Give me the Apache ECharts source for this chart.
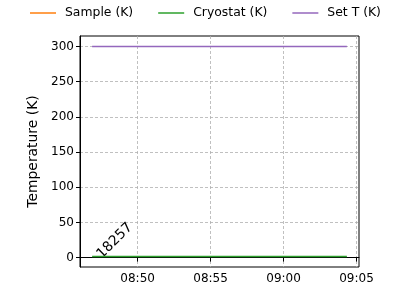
<!DOCTYPE html>
<html><head><meta charset="utf-8">
<script src="https://cdn.jsdelivr.net/npm/echarts@6/dist/echarts.min.js"></script>
<style>html,body{margin:0;padding:0;background:#fff}#c{width:400px;height:300px}</style>
</head><body><div id="c"></div>
<script>
// time in minutes since midnight
const times = [526.88, 544.34];
const sampleK = [null, null];
const cryostatK = [1.5, 1.5];
const setTK = [300, 300];
const xTickValues = [530, 535, 540, 545];
const yTickValues = [0, 50, 100, 150, 200, 250, 300];
const annotation = '18257';
const F = 'DejaVu Sans';

function fmt(v){const h=Math.floor(v/60), m=Math.round(v-h*60);return String(h).padStart(2,'0')+':'+String(m).padStart(2,'0');}
const pairs = arr => times.map((t,i)=>[t,arr[i]]);

const chart = echarts.init(document.getElementById('c'), null, {renderer:'canvas'});
const gridLine = {show:true, lineStyle:{color:'#b0b0b0', type:[3,2], width:0.8}};
chart.setOption({
  animation:false,
  textStyle:{fontFamily:F},
  legend:{top:2, left:25, icon:'rect', itemWidth:26, itemHeight:1.5, itemGap:25,
    textStyle:{fontFamily:F, fontSize:12.4, color:'#000', padding:[0,0,0,4]},
    data:['Sample (K)','Cryostat (K)','Set T (K)']},
  grid:{left:80, right:41, top:36, bottom:33, show:true, borderColor:'#000', borderWidth:1, backgroundColor:'transparent'},
  xAxis:{type:'value', min:526.05, max:545.17,
    axisLine:{show:true, lineStyle:{color:'#000'}},
    axisTick:{show:true, length:4, customValues:xTickValues, lineStyle:{color:'#000'}},
    axisLabel:{customValues:xTickValues, formatter:fmt, color:'#000', fontFamily:F, fontSize:12, margin:6},
    splitLine:gridLine},
  yAxis:{type:'value', min:-13.4, max:314.9, name:'Temperature (K)', nameLocation:'middle', nameGap:40,
    nameTextStyle:{fontFamily:F, fontSize:13.9, color:'#000'},
    axisLine:{show:true, lineStyle:{color:'#000'}},
    axisTick:{show:true, length:4, customValues:yTickValues, lineStyle:{color:'#000'}},
    axisLabel:{customValues:yTickValues, color:'#000', fontFamily:F, fontSize:12, margin:6},
    splitLine:gridLine},
  series:[
    {name:'Sample (K)', type:'line', data:pairs(sampleK), symbol:'none', lineStyle:{width:1.5, color:'#ff7f0e'}, itemStyle:{color:'#ff7f0e'}},
    {name:'Cryostat (K)', type:'line', data:pairs(cryostatK), symbol:'none', lineStyle:{width:1.5, color:'#2ca02c'}, itemStyle:{color:'#2ca02c'}},
    {name:'Set T (K)', type:'line', data:pairs(setTK), symbol:'none', lineStyle:{width:1.5, color:'#9467bd'}, itemStyle:{color:'#9467bd'}}
  ]
});
const p = chart.convertToPixel({gridIndex:0}, [times[0], cryostatK[0]]);
chart.setOption({graphic:[{type:'text', x:p[0]+7, y:p[1], rotation:Math.PI/4,
  style:{text:annotation, fontFamily:F, fontSize:13.9, fill:'#000', textAlign:'left', textVerticalAlign:'middle'}}]});
</script></body></html>
